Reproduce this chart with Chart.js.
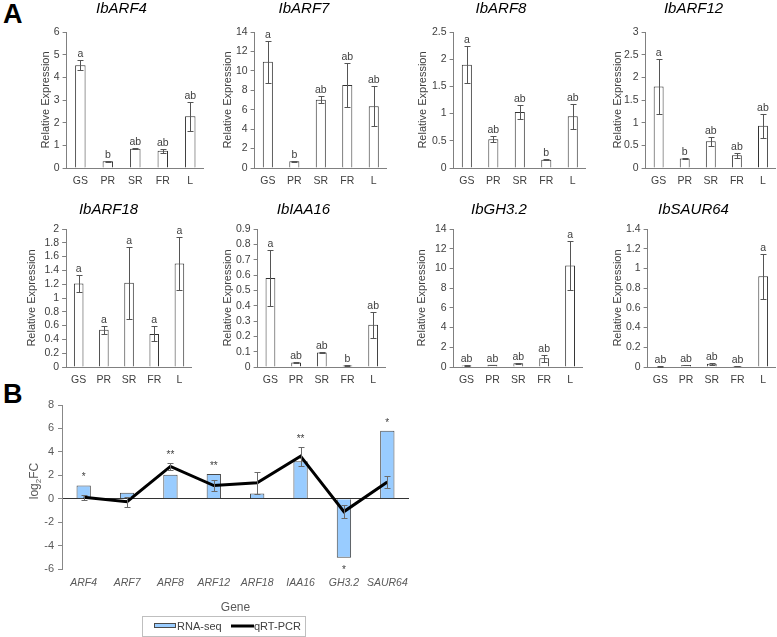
<!DOCTYPE html>
<html>
<head>
<meta charset="utf-8">
<script src="https://cdn.jsdelivr.net/npm/chart.js@4.4.1/dist/chart.umd.min.js"></script>
<style>
body { margin: 0; background: #fff; width: 777px; height: 637px; position: relative; overflow: hidden; font-family: "Liberation Sans", Arial, sans-serif; }
canvas { position: absolute; }
.panel { position: absolute; font-weight: bold; font-size: 27px; color: #000; }
</style>
</head>
<body>
<div class="panel" style="left:3px;top:-1px">A</div>
<div class="panel" style="left:3px;top:379px">B</div>
<script>
// Panel A - tissue expression
var tissues = ['GS', 'PR', 'SR', 'FR', 'L'];

var arf4Mean = [4.53, 0.3, 0.85, 0.76, 2.28];
var arf4Err = [0.22, 0.03, 0.03, 0.08, 0.65];
var arf4Sig = ['a', 'b', 'ab', 'ab', 'ab'];

var arf7Mean = [10.95, 0.69, 7.03, 8.55, 6.35];
var arf7Err = [2.15, 0.05, 0.35, 2.25, 2.05];
var arf7Sig = ['a', 'b', 'ab', 'ab', 'ab'];

var arf8Mean = [1.9, 0.53, 1.03, 0.15, 0.95];
var arf8Err = [0.34, 0.05, 0.13, 0.01, 0.23];
var arf8Sig = ['a', 'ab', 'ab', 'b', 'ab'];

var arf12Mean = [1.8, 0.21, 0.59, 0.28, 0.93];
var arf12Err = [0.6, 0.02, 0.1, 0.06, 0.26];
var arf12Sig = ['a', 'b', 'ab', 'ab', 'ab'];

var arf18Mean = [1.21, 0.54, 1.22, 0.48, 1.5];
var arf18Err = [0.12, 0.06, 0.52, 0.11, 0.38];
var arf18Sig = ['a', 'a', 'a', 'a', 'a'];

var iaa16Mean = [0.58, 0.03, 0.095, 0.01, 0.275];
var iaa16Err = [0.18, 0.003, 0.003, 0.002, 0.085];
var iaa16Sig = ['a', 'ab', 'ab', 'b', 'ab'];

var gh32Mean = [0.15, 0.22, 0.38, 0.88, 10.3];
var gh32Err = [0.03, 0.03, 0.04, 0.33, 2.5];
var gh32Sig = ['ab', 'ab', 'ab', 'ab', 'a'];

var saur64Mean = [0.005, 0.02, 0.032, 0.01, 0.92];
var saur64Err = [0.002, 0.004, 0.01, 0.003, 0.23];
var saur64Sig = ['ab', 'ab', 'ab', 'ab', 'a'];

// y axis max / step for each small chart
var yMaxA = [6, 14, 2.5, 3, 2, 0.9, 14, 1.4];
var yStepA = [1, 2, 0.5, 0.5, 0.2, 0.1, 2, 0.2];

// Panel B - RNA-seq vs qRT-PCR
var genes = ['ARF4', 'ARF7', 'ARF8', 'ARF12', 'ARF18', 'IAA16', 'GH3.2', 'SAUR64'];
var rnaSeqFC = [1.12, 0.5, 2.05, 2.12, 0.44, 3.2, -5.05, 5.8];
var qpcrFC = [0.12, -0.25, 2.76, 1.12, 1.37, 3.63, -1.1, 1.43];
var qpcrErr = [0.2, 0.42, 0.3, 0.5, 0.95, 0.8, 0.53, 0.52];
var sigMarks = ['*', '', '**', '**', '', '**', '*', '*'];

Chart.defaults.font.family = '"Liberation Sans", Arial, sans-serif';
Chart.defaults.color = '#404040';

function addCanvas(left, top, w, h) {
    var c = document.createElement('canvas');
    c.width = w; c.height = h;
    c.style.left = left + 'px';
    c.style.top = top + 'px';
    document.body.appendChild(c);
    return c.getContext('2d');
}

// error bars + letters above bars
function barExtras(mean, err, sig, color, cap) {
    return {
        id: 'barExtras',
        afterDatasetsDraw: function (chart) {
            var ctx = chart.ctx, ys = chart.scales.y;
            var meta = chart.getDatasetMeta(0);
            ctx.save();
            ctx.strokeStyle = color;
            ctx.lineWidth = 1;
            meta.data.forEach(function (el, i) {
                var x = Math.round(el.x) + 0.5;
                var t = Math.round(ys.getPixelForValue(mean[i] + err[i])) + 0.5;
                var b = Math.round(ys.getPixelForValue(mean[i] - err[i])) + 0.5;
                ctx.beginPath();
                ctx.moveTo(x, t); ctx.lineTo(x, b);
                ctx.moveTo(x - cap, t); ctx.lineTo(x + cap, t);
                ctx.moveTo(x - cap, b); ctx.lineTo(x + cap, b);
                ctx.stroke();
                if (sig && sig[i]) {
                    ctx.fillStyle = '#404040';
                    ctx.font = '10.5px "Liberation Sans", Arial';
                    ctx.textAlign = 'center';
                    ctx.textBaseline = 'bottom';
                    ctx.fillText(sig[i], el.x, t - 1);
                }
            });
            ctx.restore();
        }
    };
}

// positions of the small charts (plot left / right, y title distance)
var smallLayout = [
    { left: 67, right: 204.5, dist: 21, row: 0 },
    { left: 255, right: 387, dist: 27, row: 0 },
    { left: 454, right: 586, dist: 31, row: 0 },
    { left: 646, right: 776, dist: 28, row: 0 },
    { left: 66.5, right: 192.5, dist: 34.5, row: 1 },
    { left: 258, right: 386, dist: 30, row: 1 },
    { left: 454, right: 583, dist: 32, row: 1 },
    { left: 648, right: 776, dist: 30, row: 1 }
];
var rows = [
    { top: 0, height: 190, titlePad: 14 },
    { top: 201, height: 188, titlePad: 10 }
];

var smallData = [
    ['IbARF4', arf4Mean, arf4Err, arf4Sig],
    ['IbARF7', arf7Mean, arf7Err, arf7Sig],
    ['IbARF8', arf8Mean, arf8Err, arf8Sig],
    ['IbARF12', arf12Mean, arf12Err, arf12Sig],
    ['IbARF18', arf18Mean, arf18Err, arf18Sig],
    ['IbIAA16', iaa16Mean, iaa16Err, iaa16Sig],
    ['IbGH3.2', gh32Mean, gh32Err, gh32Sig],
    ['IbSAUR64', saur64Mean, saur64Err, saur64Sig]
];

smallData.forEach(function (d, k) {
    var lay = smallLayout[k], row = rows[lay.row];
    var W = lay.dist + 6.6;
    var ctx = addCanvas(lay.left - W, row.top, Math.round(W + lay.right - lay.left), row.height);
    new Chart(ctx, {
        type: 'bar',
        data: {
            labels: tissues,
            datasets: [{
                data: d[1],
                backgroundColor: '#ffffff',
                borderColor: '#333333',
                borderWidth: 1,
                categoryPercentage: 1,
                barPercentage: 0.38
            }]
        },
        options: {
            responsive: false,
            animation: false,
            layout: { padding: 0 },
            plugins: {
                legend: { display: false },
                tooltip: { enabled: false },
                title: {
                    display: true,
                    text: d[0],
                    color: '#000',
                    font: { size: 15, style: 'italic', weight: 'normal' },
                    padding: { top: 0, bottom: row.titlePad }
                }
            },
            scales: {
                x: {
                    afterFit: function (s) { s.height = 22; },
                    grid: { drawOnChartArea: false, drawTicks: false },
                    border: { display: true, color: '#808080' },
                    ticks: { padding: 7, font: { size: 10.5 }, color: '#404040' }
                },
                y: {
                    min: 0,
                    max: yMaxA[k],
                    afterFit: function (s) { s.width = W; },
                    grid: { drawOnChartArea: false, drawTicks: true, tickLength: 4, color: '#808080' },
                    border: { display: true, color: '#808080' },
                    ticks: {
                        stepSize: yStepA[k],
                        autoSkip: false,
                        padding: 3,
                        font: { size: 10.5 },
                        color: '#404040',
                        callback: function (v) { return +v.toFixed(2); }
                    },
                    title: {
                        display: true,
                        text: 'Relative Expression',
                        font: { size: 11 },
                        color: '#404040',
                        padding: 0
                    }
                }
            }
        },
        plugins: [barExtras(d[1], d[2], d[3], '#555', 3)]
    });
});

// Panel B
var bExtras = {
    id: 'bExtras',
    afterDatasetsDraw: function (chart) {
        var ctx = chart.ctx, ys = chart.scales.y;
        var meta = chart.getDatasetMeta(0);
        ctx.save();
        ctx.strokeStyle = '#6a6a6a';
        ctx.lineWidth = 1;
        meta.data.forEach(function (el, i) {
            var x = Math.round(el.x) + 0.5;
            var t = Math.round(ys.getPixelForValue(qpcrFC[i] + qpcrErr[i])) + 0.5;
            var b = Math.round(ys.getPixelForValue(qpcrFC[i] - qpcrErr[i])) + 0.5;
            ctx.beginPath();
            ctx.moveTo(x, t); ctx.lineTo(x, b);
            ctx.moveTo(x - 3, t); ctx.lineTo(x + 3, t);
            ctx.moveTo(x - 3, b); ctx.lineTo(x + 3, b);
            ctx.stroke();
        });
        // significance marks
        ctx.fillStyle = '#404040';
        ctx.font = '10px "Liberation Sans", Arial';
        ctx.textAlign = 'center';
        meta.data.forEach(function (el, i) {
            if (!sigMarks[i]) return;
            if (rnaSeqFC[i] >= 0) {
                var top = Math.max(rnaSeqFC[i], qpcrFC[i] + qpcrErr[i]);
                ctx.textBaseline = 'bottom';
                ctx.fillText(sigMarks[i], el.x, ys.getPixelForValue(top) - 3);
            } else {
                var bot = Math.min(rnaSeqFC[i], qpcrFC[i] - qpcrErr[i]);
                ctx.textBaseline = 'top';
                ctx.fillText(sigMarks[i], el.x, ys.getPixelForValue(bot) + 7);
            }
        });
        ctx.restore();
    },
    afterDraw: function (chart) {
        var ctx = chart.ctx, area = chart.chartArea;
        ctx.save();
        // y title log2FC with subscript
        ctx.fillStyle = '#595959';
        ctx.translate(35, (area.top + area.bottom) / 2 - 6);
        ctx.rotate(-Math.PI / 2);
        ctx.textBaseline = 'middle';
        ctx.font = '12px "Liberation Sans", Arial';
        var w1 = ctx.measureText('log').width;
        ctx.font = '8px "Liberation Sans", Arial';
        var w2 = ctx.measureText('2').width;
        ctx.font = '12px "Liberation Sans", Arial';
        var w3 = ctx.measureText('FC').width;
        var x0 = -(w1 + w2 + w3) / 2;
        ctx.textAlign = 'left';
        ctx.fillText('log', x0, 0);
        ctx.font = '8px "Liberation Sans", Arial';
        ctx.fillText('2', x0 + w1, 4);
        ctx.font = '12px "Liberation Sans", Arial';
        ctx.fillText('FC', x0 + w1 + w2, 0);
        ctx.restore();

        // legend box
        var ds = chart.data.datasets;
        ctx.save();
        ctx.strokeStyle = '#bfbfbf';
        ctx.lineWidth = 1;
        ctx.strokeRect(142.5, 236.5, 163, 20);
        ctx.fillStyle = ds[1].backgroundColor;
        ctx.fillRect(154, 243, 22, 5);
        ctx.strokeStyle = ds[1].borderColor;
        ctx.strokeRect(154.5, 243.5, 21, 4);
        ctx.strokeStyle = ds[0].borderColor;
        ctx.lineWidth = 3;
        ctx.beginPath();
        ctx.moveTo(231, 246); ctx.lineTo(254, 246);
        ctx.stroke();
        ctx.fillStyle = '#404040';
        ctx.font = '11px "Liberation Sans", Arial';
        ctx.textBaseline = 'middle';
        ctx.textAlign = 'left';
        ctx.fillText(ds[1].label, 177, 246.5);
        ctx.fillText(ds[0].label, 254, 246.5);
        ctx.restore();
    }
};

var ctxB = addCanvas(0, 380, 420, 257);
new Chart(ctxB, {
    type: 'bar',
    data: {
        labels: genes,
        datasets: [{
            type: 'line',
            label: 'qRT-PCR',
            data: qpcrFC,
            borderColor: '#000000',
            borderWidth: 3,
            pointRadius: 0,
            tension: 0,
            fill: false,
            order: 0
        }, {
            type: 'bar',
            label: 'RNA-seq',
            data: rnaSeqFC,
            backgroundColor: '#99ccff',
            borderColor: '#4a4a4a',
            borderWidth: 1,
            categoryPercentage: 1,
            barPercentage: 0.33,
            order: 1
        }]
    },
    options: {
        responsive: false,
        animation: false,
        layout: { padding: { top: 25, right: 11, left: 0, bottom: 0 } },
        plugins: {
            legend: { display: false },
            tooltip: { enabled: false }
        },
        scales: {
            x: {
                afterFit: function (s) { s.height = 68; },
                grid: { display: false, drawTicks: false },
                border: { display: false },
                ticks: {
                    padding: 8,
                    maxRotation: 0,
                    minRotation: 0,
                    autoSkip: false,
                    font: { size: 10.5, style: 'italic' },
                    color: '#595959'
                },
                title: {
                    display: true,
                    text: 'Gene',
                    font: { size: 12 },
                    color: '#595959',
                    padding: { top: 0, bottom: 21.8 }
                }
            },
            y: {
                min: -6,
                max: 8,
                afterFit: function (s) { s.width = 62; },
                grid: {
                    drawOnChartArea: true,
                    drawTicks: true,
                    tickLength: 4,
                    tickColor: '#888',
                    color: function (c) { return c.tick && c.tick.value === 0 ? '#333' : 'rgba(0,0,0,0)'; }
                },
                border: { display: true, color: '#888' },
                ticks: { stepSize: 2, autoSkip: false, padding: 4, font: { size: 11 }, color: '#595959' }
            }
        }
    },
    plugins: [bExtras]
});
</script>
</body>
</html>
